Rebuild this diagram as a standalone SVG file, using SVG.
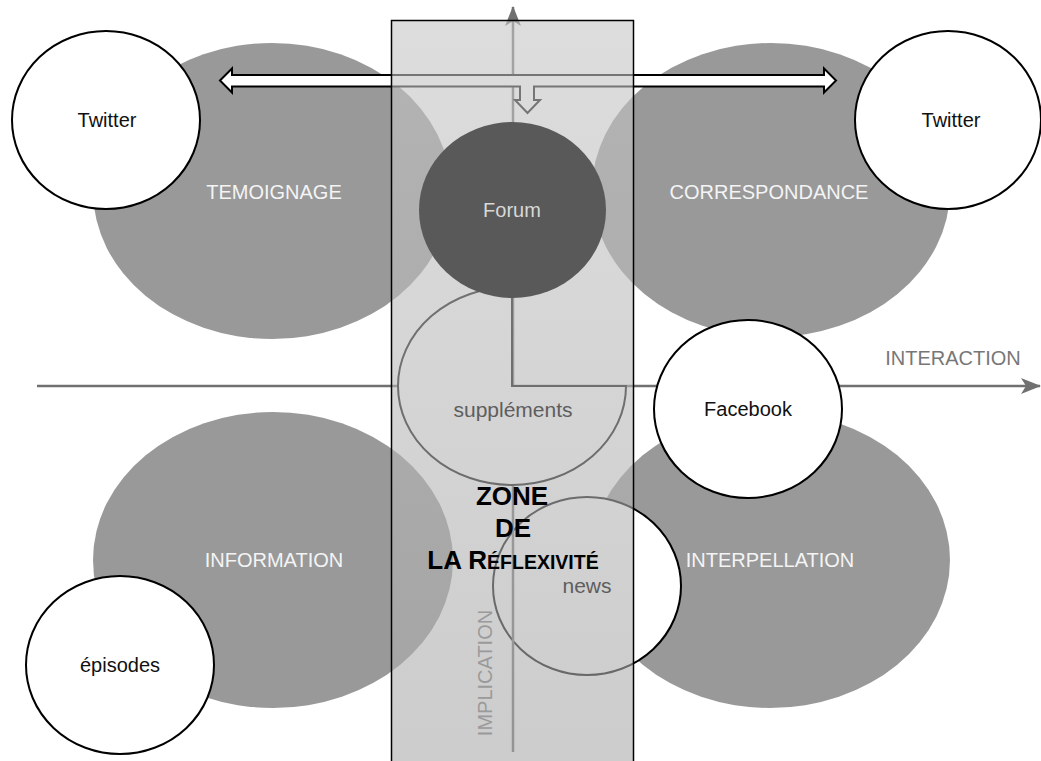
<svg xmlns="http://www.w3.org/2000/svg" width="1041" height="761" viewBox="0 0 1041 761">
<defs>
<style>
.zone{fill:#999999}
.node{fill:#ffffff;stroke:#000000;stroke-width:2}
.t{font-family:"Liberation Sans",Arial,sans-serif;font-size:20px;text-anchor:middle}
.zl{fill:#f4f4f4}
.nl{fill:#111111}
.axis{stroke:#707070;stroke-width:2.5;fill:none}
.title{font-family:"Liberation Sans",Arial,sans-serif;font-weight:bold;fill:#000000;text-anchor:middle}
</style>
<marker id="ah" viewBox="0 0 20 16" refX="19" refY="8" markerWidth="20" markerHeight="16" markerUnits="userSpaceOnUse" orient="auto">
<path d="M0,0 L20,8 L0,16 L5,8 Z" fill="#707070"/>
</marker>
<linearGradient id="rg" x1="0" y1="0" x2="0" y2="1">
<stop offset="0" stop-color="#c6c6c6"/>
<stop offset="1" stop-color="#aaaaaa"/>
</linearGradient>
</defs>
<rect width="1041" height="761" fill="#ffffff"/>
<g id="temoignage"><ellipse class="zone" cx="272" cy="191" rx="179" ry="148"/></g>
<g id="correspondance"><ellipse class="zone" cx="771" cy="190" rx="179" ry="147"/></g>
<g id="information"><ellipse class="zone" cx="273" cy="560" rx="180" ry="148"/></g>
<g id="interpellation"><ellipse class="zone" cx="770" cy="560" rx="180" ry="148"/></g>
<g id="news-circle"><ellipse class="node" cx="587" cy="586" rx="94" ry="89"/></g>
<g id="connectors">
<line class="axis" x1="37" y1="386" x2="1040" y2="386" marker-end="url(#ah)"/>
<line class="axis" x1="513" y1="752" x2="513" y2="7" marker-end="url(#ah)"/>
</g>
<g id="facebook"><ellipse class="node" cx="748" cy="409" rx="94" ry="89"/><text class="t nl" x="748" y="416">Facebook</text></g>
<g id="twitter-left"><ellipse class="node" cx="106" cy="120" rx="94" ry="89"/><text class="t nl" x="107" y="127">Twitter</text></g>
<g id="twitter-right"><ellipse class="node" cx="948" cy="120" rx="93" ry="89"/><text class="t nl" x="951" y="127">Twitter</text></g>
<g id="episodes"><ellipse class="node" cx="120" cy="665" rx="94" ry="89"/><text class="t nl" x="120" y="672">épisodes</text></g>
<g id="supplements-shape"><path class="node" d="M512,386 L512,287 A114,99 0 1,0 626,386 Z"/></g>
<g id="double-arrow"><path d="M220,80.5 L232,68.5 L232,75 L824,75 L824,68.5 L836,80.5 L824,92.5 L824,86.5 L534,86.5 L534,100 L540,100 L527.5,113 L515,100 L520,100 L520,86.5 L232,86.5 L232,92.5 Z" fill="#ffffff" stroke="#000000" stroke-width="2" stroke-linejoin="miter"/></g>
<g id="zone-reflexivite"><rect x="391.5" y="20.5" width="242" height="760" fill="url(#rg)" fill-opacity="0.6" stroke="#000000" stroke-width="1.5"/></g>
<g id="forum"><ellipse cx="512.5" cy="210" rx="93.5" ry="88" fill="#595959"/><text class="t" x="512" y="217" fill="#d8d8d8">Forum</text></g>
<g id="labels">
<text class="t zl" x="274" y="199">TEMOIGNAGE</text>
<text class="t zl" x="769" y="199">CORRESPONDANCE</text>
<text class="t zl" x="274" y="567">INFORMATION</text>
<text class="t zl" x="770" y="567">INTERPELLATION</text>
<text class="t" x="513" y="417" fill="#5e5e5e" style="font-size:21px">suppléments</text>
<text class="t" x="587" y="593" fill="#5e5e5e" style="font-size:21px">news</text>
<text class="t" x="953" y="365" fill="#777777">INTERACTION</text>
<text class="t" x="492" y="673" fill="#9a9a9a" transform="rotate(-90 492 673)">IMPLICATION</text>
<text class="title" x="512" y="505" font-size="26">ZONE</text>
<text class="title" x="513" y="537" font-size="26">DE</text>
<text class="title" x="513" y="569" font-size="26">LA R<tspan font-size="19.5">ÉFLEXIVITÉ</tspan></text>
</g>
</svg>
